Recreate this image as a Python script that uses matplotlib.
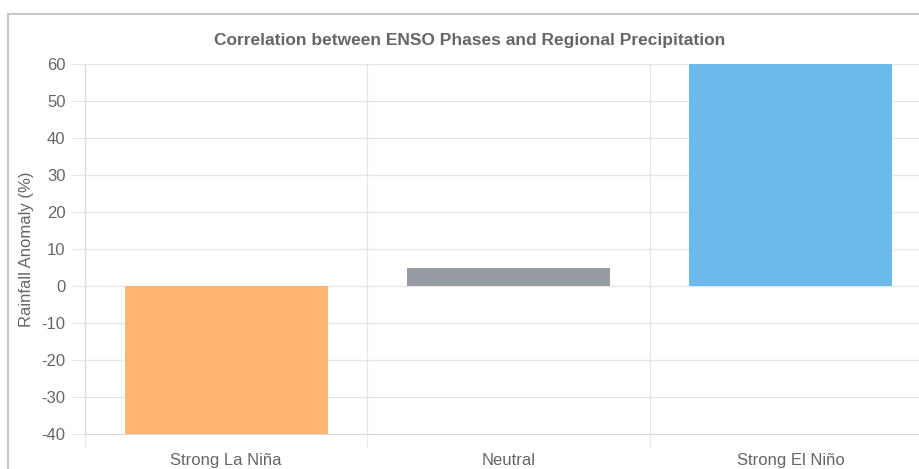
import matplotlib
matplotlib.use("Agg")
import matplotlib.pyplot as plt
from matplotlib.patches import Rectangle

categories = ["Strong La Niña", "Neutral", "Strong El Niño"]
values = [-40, 5, 60]
colors = ["#FDB570", "#959BA0", "#6CB9EB"]
yticks = [60, 50, 40, 30, 20, 10, 0, -10, -20, -30, -40]

plt.rcParams['font.family'] = ['Liberation Sans', 'DejaVu Sans']
plt.rcParams['axes.unicode_minus'] = False
W, H = 920, 469
fig = plt.figure(figsize=(W/100, H/100), dpi=100)

# container border
fig.patches.append(Rectangle((8/W, -0.1), 1.2, 1 - 14/H + 0.1, transform=fig.transFigure,
                             fill=False, edgecolor="#c8c8c8", linewidth=1.5, zorder=0))

left, right, top, bottom = 85, 932, 64, 434
ax = fig.add_axes([left/W, 1 - bottom/H, (right-left)/W, (bottom-top)/H])
x = list(range(len(categories)))
ax.bar(x, values, width=0.72, color=colors, zorder=2)
ax.set_xlim(-0.5, len(categories) - 0.5)
ax.set_ylim(-40, 60)
ax.set_yticks(yticks)
ax.set_xticks(x)
ax.set_xticklabels(categories)
for b in [-0.5, 0.5, 1.5, 2.5]:
    ax.axvline(b, color="#e6e6e6", lw=1, zorder=1)
ax.set_xticks([-0.5, 0.5, 1.5, 2.5], minor=True)
ax.yaxis.grid(True, color="#e6e6e6", lw=1, zorder=1)
ax.set_axisbelow(True)
for s in ["top", "right"]:
    ax.spines[s].set_visible(False)
ax.spines["left"].set_color("#d9d9d9")
ax.spines["bottom"].set_color("#d9d9d9")
ax.tick_params(axis="y", length=10, color="#e6e6e6", labelsize=12, labelcolor="#666666", pad=4)
ax.tick_params(axis="x", which="major", length=0, labelsize=12, labelcolor="#666666", pad=14)
ax.tick_params(axis="x", which="minor", length=10, color="#e6e6e6")
ax.set_ylabel("Rainfall Anomaly (%)", fontsize=12, color="#666666", labelpad=5)
fig.text(470/W, 1 - 40/H, "Correlation between ENSO Phases and Regional Precipitation",
         ha="center", va="center", fontsize=12.5, fontweight="bold", color="#666666")
fig.savefig("out.png", dpi=100)
